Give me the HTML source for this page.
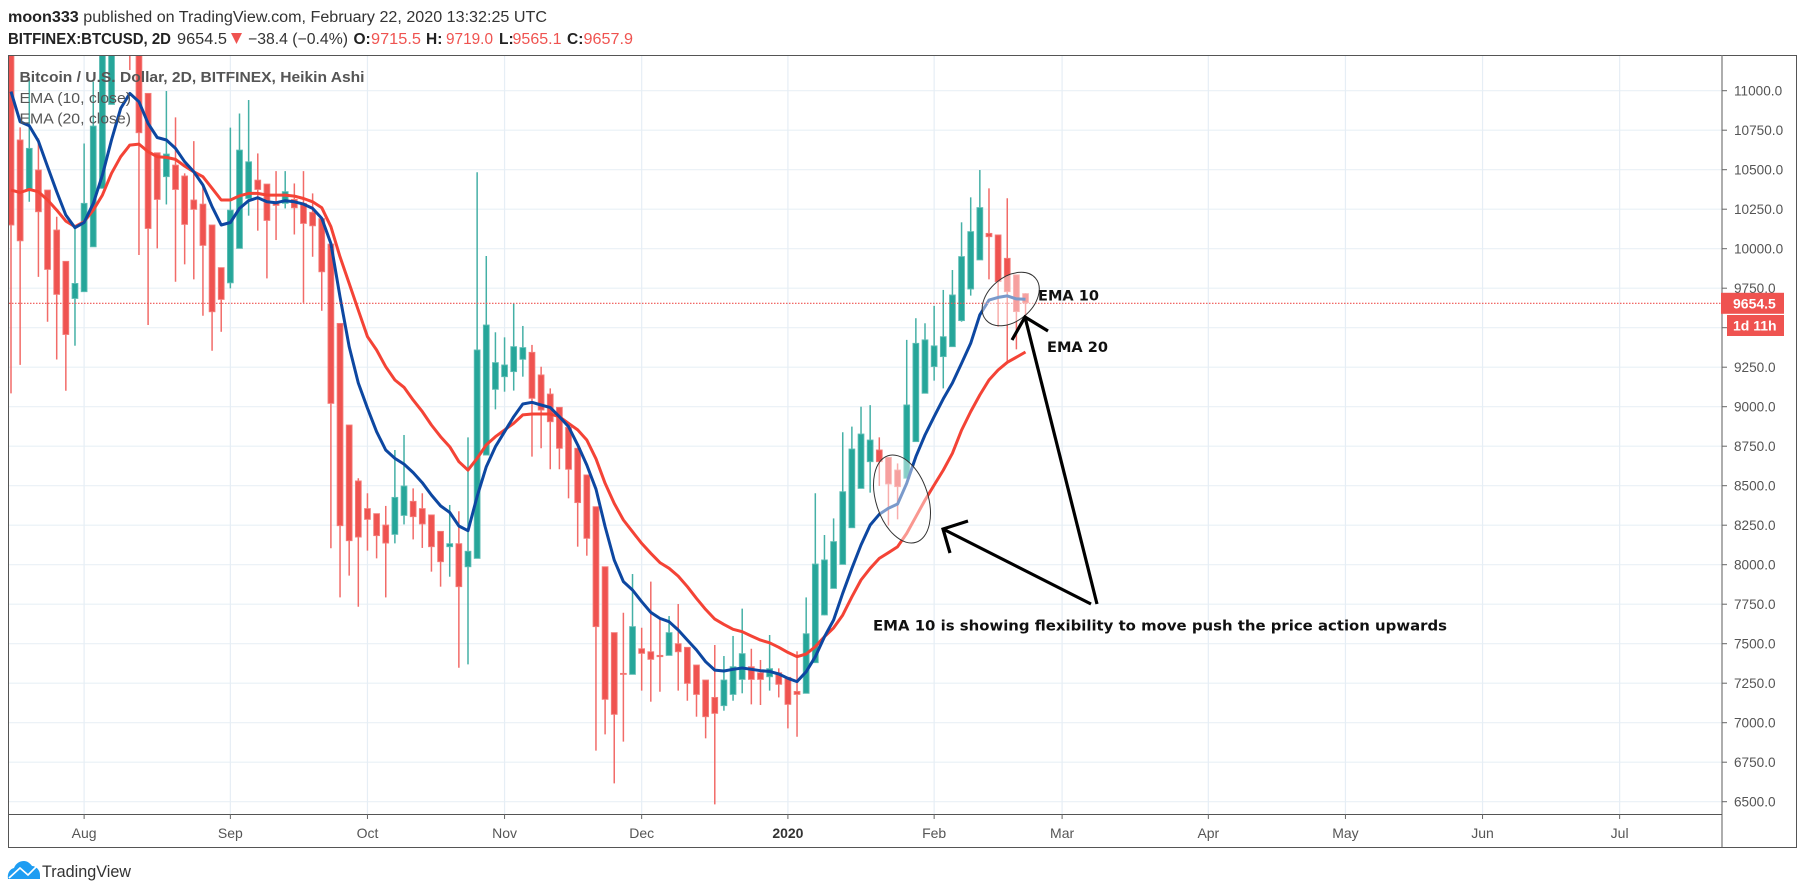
<!DOCTYPE html>
<html lang="en">
<head>
<meta charset="utf-8">
<title>BITFINEX:BTCUSD 2D Heikin Ashi</title>
<style>
html,body{margin:0;padding:0;background:#fff;width:1805px;height:894px;overflow:hidden}
svg{display:block;font-family:"Liberation Sans",sans-serif}
</style>
</head>
<body>
<svg id="chart" xmlns="http://www.w3.org/2000/svg" width="1805" height="894" viewBox="0 0 1805 894">
  <defs><clipPath id="plot-clip"><rect x="9" y="56" width="1713" height="758"/></clipPath></defs>

  <g>
    <text x="8" y="22" font-size="15.5" fill="#333" textLength="539" lengthAdjust="spacingAndGlyphs"><tspan font-weight="bold" fill="#222">moon333</tspan> published on TradingView.com, February 22, 2020 13:32:25 UTC</text>
    <text x="8" y="44" font-size="15.5" font-weight="bold" fill="#222" textLength="163" lengthAdjust="spacingAndGlyphs">BITFINEX:BTCUSD, 2D</text>
    <text x="177" y="44" font-size="15.5" fill="#333" textLength="50" lengthAdjust="spacingAndGlyphs">9654.5</text>
    <polygon points="231,33 242,33 236.5,44" fill="#ef5350"/>
    <text x="248" y="44" font-size="15.5" fill="#333" textLength="100" lengthAdjust="spacingAndGlyphs">−38.4 (−0.4%)</text>
    <text x="353.5" y="44" font-size="15.5" font-weight="bold" fill="#222">O:</text>
    <text x="371" y="44" font-size="15.5" fill="#ef5350" textLength="50" lengthAdjust="spacingAndGlyphs">9715.5</text>
    <text x="426" y="44" font-size="15.5" font-weight="bold" fill="#222">H:</text>
    <text x="446" y="44" font-size="15.5" fill="#ef5350" textLength="47" lengthAdjust="spacingAndGlyphs">9719.0</text>
    <text x="499" y="44" font-size="15.5" font-weight="bold" fill="#222">L:</text>
    <text x="512.5" y="44" font-size="15.5" fill="#ef5350" textLength="49" lengthAdjust="spacingAndGlyphs">9565.1</text>
    <text x="567" y="44" font-size="15.5" font-weight="bold" fill="#222">C:</text>
    <text x="583.5" y="44" font-size="15.5" fill="#ef5350" textLength="49.5" lengthAdjust="spacingAndGlyphs">9657.9</text>
  </g>

  <g id="grid"></g>
  <g clip-path="url(#plot-clip)">
    <g id="candles"></g>
    <polyline id="ema20" fill="none" stroke="#f44336" stroke-width="3" stroke-linejoin="round"/>
    <polyline id="ema10" fill="none" stroke="#0d47a1" stroke-width="3" stroke-linejoin="round"/>
    <line id="price-line" x1="9" x2="1722" stroke="#ef5350" stroke-width="1.2" stroke-dasharray="1.5 1.5"/>
  </g>

  <g>
    <ellipse cx="0" cy="0" rx="26" ry="45.5" transform="translate(902 499) rotate(-18)" fill="#fff" fill-opacity="0.45" stroke="#333" stroke-width="1"/>
    <ellipse cx="0" cy="0" rx="32.4" ry="21.9" transform="translate(1010.7 299) rotate(-40)" fill="#fff" fill-opacity="0.45" stroke="#333" stroke-width="1"/>
    <g stroke="#000" stroke-width="3.2" fill="none">
      <line x1="1091" y1="604" x2="943" y2="529"/>
      <polyline points="968,521 943,529 950,553"/>
    </g>
    <g stroke="#000" stroke-width="3.2" fill="none">
      <line x1="1097" y1="604" x2="1025" y2="317"/>
      <polyline points="1048,331 1025,317 1012,340"/>
    </g>
    <text x="1038" y="300.5" font-family="'DejaVu Sans',sans-serif" font-weight="bold" font-size="14.5" fill="#111" textLength="61" lengthAdjust="spacingAndGlyphs">EMA 10</text>
    <text x="1047" y="352" font-family="'DejaVu Sans',sans-serif" font-weight="bold" font-size="14.5" fill="#111" textLength="61" lengthAdjust="spacingAndGlyphs">EMA 20</text>
    <text x="873" y="630.5" font-family="'DejaVu Sans',sans-serif" font-weight="bold" font-size="14.5" fill="#111" textLength="574" lengthAdjust="spacingAndGlyphs">EMA 10 is showing flexibility to move push the price action upwards</text>
  </g>

  <g fill="#555">
    <text x="19.5" y="82" font-size="15" font-weight="bold" textLength="345" lengthAdjust="spacingAndGlyphs">Bitcoin / U.S. Dollar, 2D, BITFINEX, Heikin Ashi</text>
    <text x="19.5" y="103" font-size="15" textLength="111.5" lengthAdjust="spacingAndGlyphs">EMA (10, close)</text>
    <text x="19.5" y="123.5" font-size="15" textLength="111.5" lengthAdjust="spacingAndGlyphs">EMA (20, close)</text>
  </g>

  <g>
    <line x1="8" y1="55.5" x2="1797" y2="55.5" stroke="#555" stroke-width="1"/>
    <line x1="8.5" y1="55" x2="8.5" y2="847.5" stroke="#555" stroke-width="1"/>
    <line x1="1796.5" y1="55" x2="1796.5" y2="847.5" stroke="#555" stroke-width="1"/>
    <line x1="8" y1="847.5" x2="1797" y2="847.5" stroke="#555" stroke-width="1"/>
    <line x1="1722" y1="55" x2="1722" y2="847" stroke="#777" stroke-width="1.2"/>
    <line x1="8" y1="814.5" x2="1722" y2="814.5" stroke="#555" stroke-width="1"/>
  </g>
  <g id="price-axis"></g>
  <g id="time-axis"></g>

  <g>
    <rect id="last-tag" x="1721" y="292.5" width="63" height="21" fill="#ef5350"/>
    <text id="last-tag-text" x="1733" y="308" font-size="14" font-weight="bold" fill="#fff">9654.5</text>
    <rect x="1727" y="315" width="57" height="21" fill="#ef5350"/>
    <text x="1733" y="330.5" font-size="14" font-weight="bold" fill="#fff">1d 11h</text>
  </g>

  <g>
    <path d="M8 879 C7 873 10 869 14 868 C16 863 20 861 24 861 C27 861 30 863 32 866 C36 866 40 870 40 875 L40 879 Z" fill="#1e9df2"/>
    <polyline points="9,878 20,868 28,875 38,865" fill="none" stroke="#fff" stroke-width="1.6"/>
    <text x="42" y="877" font-size="17" fill="#333" textLength="89" lengthAdjust="spacingAndGlyphs">TradingView</text>
  </g>
</svg>
<script>
var opens = [11400,10688,10375,10498,10371,10118,9920,9685,9728,10012,10382,10913,11700,11500,11400,10983,10607,10456,10529,10460,10308,10282,10150,9880,9784,10002,10318,10434,10409,10287,10287,10312,10287,10230,10190,10029,9527,8884,8530,8355,8323,8251,8192,8312,8401,8355,8315,8211,8114,8133,7987,8040,8694,9110,9190,9222,9300,9344,9201,9080,8996,8869,8737,8568,8367,7987,7570,7312,7306,7468,7449,7426,7426,7500,7477,7365,7270,7160,7108,7179,7274,7354,7316,7291,7316,7287,7198,7186,7380,7682,7850,8002,8234,8483,8652,8726,8679,8599,8547,8779,9085,9254,9317,9380,9545,9745,9929,10097,10087,9939,9834,9715.5];
var closes = [10150,10050,10635,10234,9869,9711,9457,9780,10287,10776,11350,11400,11500,11300,10734,10128,10312,10599,10375,10154,10249,10021,9601,9679,10244,10624,10550,10375,10179,10274,10361,10259,10160,10145,9854,9021,8247,8152,8175,8287,8184,8137,8426,8498,8304,8258,8114,8019,8133,7861,8085,9359,9517,9279,9264,9380,9374,9053,8979,8905,8737,8604,8393,8167,7608,7148,7053,7306,7608,7439,7401,7418,7570,7449,7249,7179,7038,7059,7270,7354,7437,7274,7274,7342,7243,7116,7179,7563,8004,8030,8146,8462,8732,8827,8789,8652,8511,8494,9011,9401,9423,9385,9443,9707,9950,10108,10260,10076,9792,9728,9602,9657.9];
var highs = [11400,10768,11067,10698,10371,10202,9920,10139,10666,11057,11350,11400,11700,11500,11400,10983,10607,10998,10831,10477,10681,10403,10150,9880,10766,10856,10941,10603,10409,10491,10491,10413,10491,10350,10190,10029,9527,8884,8547,8452,8323,8372,8726,8821,8483,8452,8315,8211,8378,8338,8806,10484,9954,9471,9439,9654,9511,9391,9253,9116,8996,8869,8737,8568,8367,7987,7570,7696,7941,7601,7893,7660,7675,7751,7477,7365,7270,7492,7422,7549,7722,7468,7397,7555,7344,7287,7452,7793,8452,8188,8293,8838,8874,9000,9010,8806,8679,8641,9423,9560,9528,9638,9739,9865,10167,10325,10498,10382,10087,10319,9834,9719];
var lows = [9084,9265,10297,9822,9538,9299,9101,9386,9728,10012,10382,10913,11500,11131,9960,9517,10002,10280,9791,9901,9806,9576,9354,9474,9749,10002,10209,10114,9812,10055,10255,10090,9658,9949,9607,8104,7793,7931,7734,8089,8040,7793,8135,8255,8160,8106,7956,7861,7924,7348,7369,8040,8694,8983,9095,9102,9190,8684,8737,8604,8604,8420,8114,8057,6823,6926,6616,6880,7306,7203,7133,7196,7426,7203,7139,7038,6901,6483,7076,7139,7186,7116,7112,7203,7160,6964,6911,7186,7380,7680,7850,8002,8234,8483,8456,8498,8247,8287,8547,8779,9085,9165,9116,9380,9538,9703,9929,9806,9507,9275,9363,9565.1];
var ema10Values = [10994,10804,10778,10681,10519,10361,10213,10133,10166,10287,10466,10688,10888,10983,10930,10793,10704,10688,10635,10550,10487,10403,10266,10150,10166,10255,10304,10323,10297,10291,10304,10297,10282,10255,10192,10033,9696,9379,9150,8990,8842,8726,8673,8637,8583,8519,8441,8372,8331,8245,8215,8431,8620,8747,8842,8937,9017,9028,9011,8994,8937,8874,8758,8631,8478,8241,8030,7893,7840,7766,7698,7660,7639,7587,7523,7460,7386,7333,7327,7338,7346,7338,7329,7325,7308,7281,7260,7323,7418,7544,7650,7819,7977,8125,8251,8319,8357,8384,8515,8684,8821,8937,9050,9150,9275,9401,9581,9675,9692,9701,9682,9680];
var ema20Values = [10371,10356,10375,10361,10308,10244,10175,10139,10171,10244,10339,10477,10582,10656,10662,10614,10582,10578,10565,10523,10487,10456,10382,10308,10308,10335,10350,10350,10339,10339,10339,10333,10318,10297,10259,10139,9949,9780,9611,9443,9359,9253,9169,9123,9042,8969,8884,8810,8747,8652,8599,8673,8758,8810,8853,8895,8948,8954,8954,8954,8937,8895,8853,8789,8670,8515,8388,8283,8209,8135,8072,8013,7977,7928,7861,7787,7717,7656,7622,7591,7576,7549,7523,7506,7477,7445,7418,7435,7481,7544,7600,7681,7797,7903,7977,8040,8076,8114,8198,8304,8409,8504,8599,8705,8852,8969,9074,9169,9232,9281,9313,9346];
var priceTicks = [11000,10750,10500,10250,10000,9750,9500,9250,9000,8750,8500,8250,8000,7750,7500,7250,7000,6750,6500];
var timeLabels = ["Aug","Sep","Oct","Nov","Dec","2020","Feb","Mar","Apr","May","Jun","Jul"];
var timeLabelBars = [8,24,39,54,69,85,101,115,131,146,161,176];
var lastPrice = 9654.5;

var NS = 'http://www.w3.org/2000/svg';
function xAt(i){ return 11 + i * 9.14; }
function yAt(p){ return 90.7 + (11000 - p) * 0.158; }
function make(tag, attrs, parent){
  var el = document.createElementNS(NS, tag);
  for (var k in attrs) { el.setAttribute(k, attrs[k]); }
  parent.appendChild(el);
  return el;
}

var grid = document.getElementById('grid');
var priceAxis = document.getElementById('price-axis');
priceTicks.forEach(function(p){
  var y = yAt(p);
  var g = make('line', {x1:9, x2:1722, y1:y, y2:y, stroke:'#e9f0f6', 'stroke-width':1.2}, grid);
  
  
  var t = make('line', {x1:1722, x2:1727, y1:y, y2:y, stroke:'#666', 'stroke-width':1}, priceAxis);
  
  
  var l = make('text', {x:1734, y:y + 5, 'font-size':13.6, fill:'#555'}, priceAxis);
  
  
  l.textContent = p.toFixed(1);
});

var timeAxis = document.getElementById('time-axis');
timeLabels.forEach(function(label, n){
  var x = xAt(timeLabelBars[n]);
  var g = make('line', {x1:x, x2:x, y1:56, y2:814, stroke:'#e6eef5', 'stroke-width':1.2}, grid);
  
  
  var t = make('line', {x1:x, x2:x, y1:814, y2:819, stroke:'#666', 'stroke-width':1}, timeAxis);
  
  
  var l = make('text', {x:x, y:838, 'font-size':14, fill:'#555', 'text-anchor':'middle'}, timeAxis);
  
  
  if (label === '2020') { l.setAttribute('font-weight', 'bold'); l.setAttribute('fill', '#333'); }
  l.textContent = label;
});

var candles = document.getElementById('candles');
opens.forEach(function(o, i){
  var c = closes[i], up = c >= o;
  var x = xAt(i);
  var fill = up ? '#26a69a' : '#ef5350';
  var edge = up ? '#5dbdb4' : '#f47c79';
  var wick = make('line', {x1:x, x2:x, y1:yAt(highs[i]), y2:yAt(lows[i]), stroke:up ? '#45b0a6' : '#f26b68', 'stroke-width':1.5}, candles);
  
  
  var top = yAt(Math.max(o, c)), bot = yAt(Math.min(o, c));
  var body = make('rect', {x:x - 2.9, y:top, width:5.8, height:Math.max(bot - top, 1), fill:fill, stroke:edge, 'stroke-width':0.9}, candles);
  
  
});

function linePoints(values){
  return values.map(function(v, i){ return xAt(i).toFixed(1) + ',' + yAt(v).toFixed(1); }).join(' ');
}
document.getElementById('ema10').setAttribute('points', linePoints(ema10Values));
document.getElementById('ema20').setAttribute('points', linePoints(ema20Values));
var py = yAt(lastPrice);
var pl = document.getElementById('price-line');
pl.setAttribute('y1', py);
pl.setAttribute('y2', py);
document.getElementById('last-tag').setAttribute('y', py - 10.5);
document.getElementById('last-tag-text').setAttribute('y', py + 5);
document.getElementById('last-tag-text').textContent = lastPrice.toFixed(1);
</script>
</body>
</html>
